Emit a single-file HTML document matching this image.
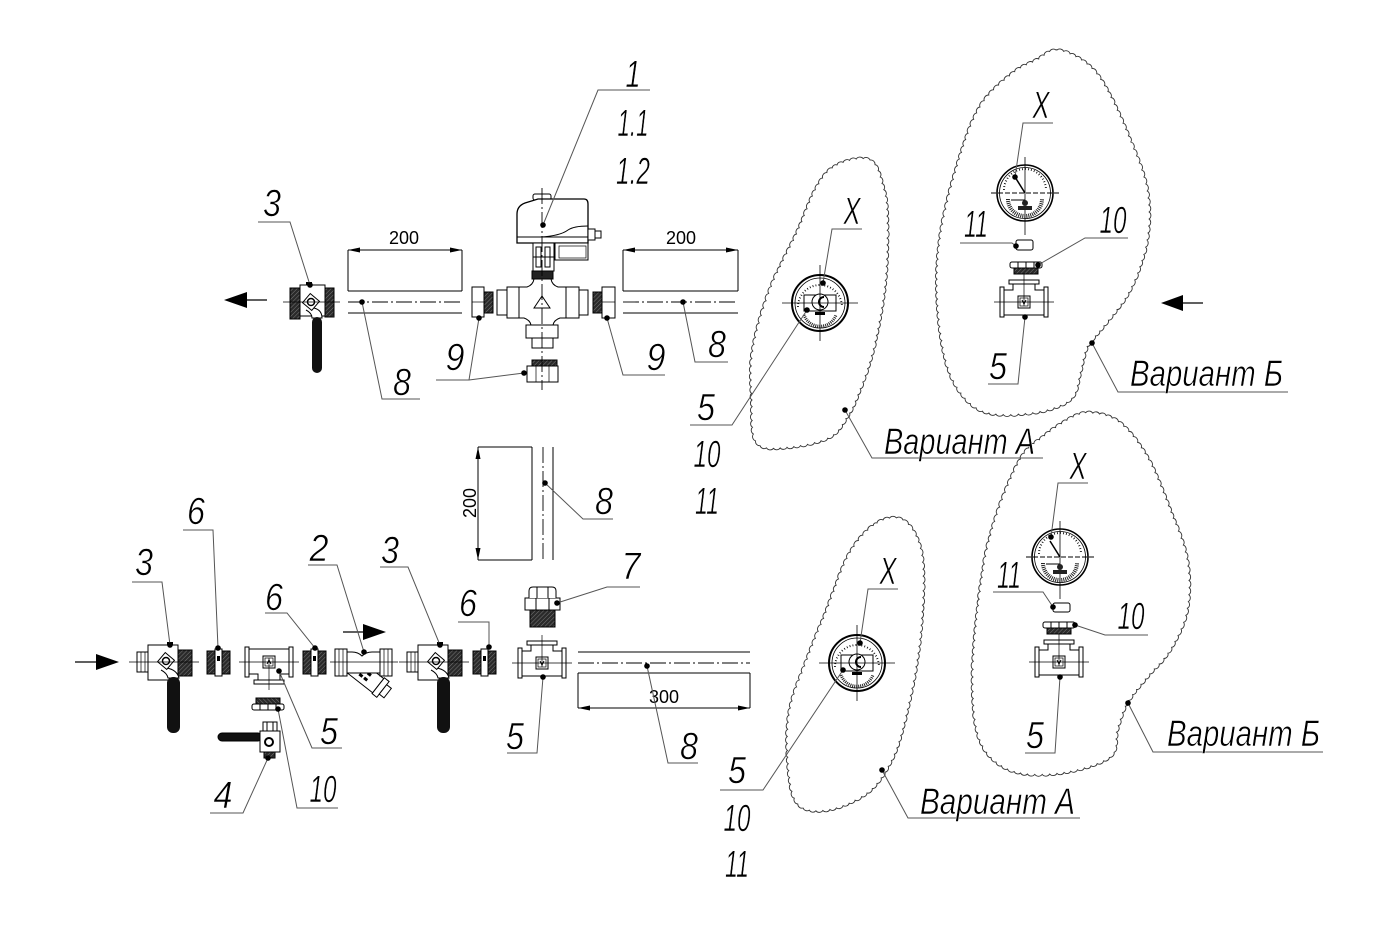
<!DOCTYPE html>
<html><head><meta charset="utf-8">
<style>
html,body{margin:0;padding:0;background:#fff;}
svg{display:block}
.t{font-family:"Liberation Sans",sans-serif;font-style:italic;font-size:38px;fill:#000;stroke:#fff;stroke-width:0.6}
.v{font-family:"Liberation Sans",sans-serif;font-style:italic;font-size:37px;fill:#000;stroke:#fff;stroke-width:0.6}
.d{font-family:"Liberation Sans",sans-serif;font-size:18px;fill:#000}
.ld{fill:none;stroke:#555;stroke-width:1}
.k{fill:none;stroke:#000;stroke-width:1}
.cl{fill:none;stroke:#000;stroke-width:0.9;stroke-dasharray:16 3 2 3}
.cloud{fill:none;stroke:#333;stroke-width:0.9}
</style></head><body>
<svg width="1400" height="940" viewBox="0 0 1400 940" xmlns="http://www.w3.org/2000/svg">
<defs>
<pattern id="h" width="3" height="3" patternUnits="userSpaceOnUse" patternTransform="rotate(45)">
<rect width="3" height="3" fill="#2a2a2a"/><line x1="0" y1="0" x2="0" y2="3" stroke="#999" stroke-width="0.7"/>
</pattern>
<g id="bv">
<rect x="0" y="-10" width="11" height="20" fill="#fff" stroke="#000"/>
<line x1="4" y1="-10" x2="4" y2="10" stroke="#000" stroke-width="0.7"/>
<line x1="8" y1="-10" x2="8" y2="10" stroke="#000" stroke-width="0.7"/>
<rect x="11" y="-17" width="30" height="35" fill="#fff" stroke="#000"/>
<rect x="41" y="-12" width="14" height="26" fill="url(#h)" stroke="#000"/>
<rect x="30" y="-20" width="6" height="3" fill="#000"/>
<path d="M30,6 Q40,8 42,16 L31,16 Q30,11 24,8" fill="#fff" stroke="#000"/>
<rect x="30" y="15" width="13" height="56" rx="6" fill="#111"/>
<rect x="23" y="-7" width="12" height="12" transform="rotate(40 29 -1)" fill="#fff" stroke="#000"/>
<circle cx="29" cy="-1" r="3.5" fill="#fff" stroke="#000" stroke-width="1.5"/>
<line x1="-8" y1="0" x2="62" y2="0" stroke="#000" stroke-width="0.8"/>
</g>
<g id="nip">
<rect x="0" y="-11" width="8" height="23" fill="url(#h)" stroke="#000"/>
<rect x="8" y="-13" width="7" height="27" fill="#fff" stroke="#000"/>
<rect x="10" y="-6" width="3" height="5" fill="#000"/>
<rect x="15" y="-11" width="8" height="23" fill="url(#h)" stroke="#000"/>
</g>
<g id="tee">
<rect x="-24" y="-15" width="4" height="30" fill="#fff" stroke="#000"/>
<rect x="20" y="-15" width="4" height="30" fill="#fff" stroke="#000"/>
<path d="M-20,-12 H-11 V-18 H11 V-12 H20 V13 H-20 Z" fill="#fff" stroke="#000"/>
<rect x="-15" y="-22" width="30" height="4" fill="#fff" stroke="#000"/>
<rect x="-6" y="-6" width="12" height="12" fill="#fff" stroke="#000"/>
<rect x="-4" y="-4" width="8" height="8" fill="#fff" stroke="#000" stroke-width="0.7"/>
<path d="M-2,-2 L0,2 L2,-2" stroke="#000" fill="none"/>
<line x1="-30" y1="0" x2="30" y2="0" stroke="#000" stroke-width="0.7"/>
<line x1="0" y1="-28" x2="0" y2="4" stroke="#000" stroke-width="0.7"/>
</g>
<g id="un">
<rect x="-16" y="-6" width="32" height="6" rx="2" fill="#fff" stroke="#000"/>
<line x1="-8" y1="-6" x2="-8" y2="0" stroke="#000"/>
<line x1="0" y1="-6" x2="0" y2="0" stroke="#000"/>
<line x1="8" y1="-6" x2="8" y2="0" stroke="#000"/>
<rect x="-12" y="0" width="24" height="6" fill="url(#h)" stroke="#000"/>
</g>
<g id="gB">
<circle r="28" fill="#fff" stroke="#000" stroke-width="1.6"/>
<circle r="25.5" fill="none" stroke="#000" stroke-width="0.8"/>
<path d="M-21,-3 A21,21 0 0 1 21,-3" fill="none" stroke="#000" stroke-width="2" stroke-dasharray="0.8 2.2"/>
<line x1="-34" y1="0" x2="34" y2="0" stroke="#000" stroke-dasharray="5 2"/>
<line x1="0" y1="-36" x2="0" y2="42" stroke="#000" stroke-width="0.8"/>
<path d="M-17,6 A17,17 0 0 0 17,6" fill="none" stroke="#222" stroke-width="4" stroke-dasharray="1 1"/>
<line x1="-10" y1="-16" x2="0" y2="0" stroke="#000" stroke-width="1.5"/>
<line x1="-14" y1="7" x2="0" y2="7" stroke="#000"/>
<circle cx="0" cy="10" r="3" fill="#222"/>
<rect x="-7" y="13" width="14" height="4" fill="#222"/>
</g>
<g id="gA">
<circle r="28" fill="#fff" stroke="#000" stroke-width="2"/>
<circle r="25" fill="none" stroke="#000" stroke-width="0.8"/>
<path d="M-22,4 A22,22 0 1 1 22,4" fill="none" stroke="#000" stroke-width="2" stroke-dasharray="0.8 2.2"/>
<rect x="-16" y="-8" width="32" height="16" fill="#fff" stroke="#000"/>
<circle cx="0" cy="-1" r="8" fill="#fff" stroke="#000"/>
<path d="M4,-6 A5,5 0 1 0 4,4" fill="none" stroke="#000" stroke-width="2"/>
<rect x="-5" y="9" width="10" height="3" fill="#000"/>
<path d="M-16,12 A17,17 0 0 0 16,12" fill="none" stroke="#222" stroke-width="3" stroke-dasharray="1 1"/>
<line x1="-38" y1="0" x2="38" y2="0" stroke="#000" stroke-width="0.8"/>
<line x1="0" y1="-38" x2="0" y2="38" stroke="#000" stroke-width="0.8"/>
</g>
</defs>

<!-- ================= TOP ROW ================= -->
<line x1="246" y1="300" x2="267" y2="300" stroke="#000" stroke-width="1.2"/>
<polygon points="224,300 247,292 247,308" fill="#000"/>

<g>
<rect x="290" y="288" width="10" height="31" fill="url(#h)" stroke="#000"/>
<rect x="300" y="285" width="25" height="31" fill="#fff" stroke="#000"/>
<rect x="325" y="288" width="9" height="29" fill="url(#h)" stroke="#000"/>
<rect x="306" y="282" width="6" height="3" fill="#000"/>
<path d="M314,308 Q322,310 322,318 L312,318 Q312,313 306,310" fill="#fff" stroke="#000"/>
<rect x="312" y="317" width="10" height="56" rx="5" fill="#111"/>
<rect x="305" y="296" width="12" height="12" transform="rotate(40 311 302)" fill="#fff" stroke="#000"/>
<circle cx="311" cy="302" r="3.5" fill="#fff" stroke="#000" stroke-width="1.5"/>
<line x1="283" y1="302" x2="340" y2="302" stroke="#000" stroke-width="0.8"/>
</g>

<g class="k">
<line x1="348" y1="250" x2="348" y2="291"/>
<line x1="462" y1="250" x2="462" y2="291"/>
<line x1="348" y1="250" x2="462" y2="250"/>
<line x1="348" y1="291" x2="462" y2="291"/>
<line x1="348" y1="313" x2="462" y2="313"/>
</g>
<line class="cl" x1="348" y1="302" x2="462" y2="302"/>
<polygon points="348,250 360,247.5 360,252.5" fill="#000"/>
<polygon points="462,250 450,247.5 450,252.5" fill="#000"/>
<text class="d" x="404" y="244" text-anchor="middle">200</text>

<g class="k">
<line x1="623" y1="250" x2="623" y2="291"/>
<line x1="738" y1="250" x2="738" y2="291"/>
<line x1="623" y1="250" x2="738" y2="250"/>
<line x1="623" y1="291" x2="738" y2="291"/>
<line x1="623" y1="313" x2="738" y2="313"/>
</g>
<line class="cl" x1="623" y1="302" x2="738" y2="302"/>
<polygon points="623,250 635,247.5 635,252.5" fill="#000"/>
<polygon points="738,250 726,247.5 726,252.5" fill="#000"/>
<text class="d" x="681" y="244" text-anchor="middle">200</text>

<rect x="472" y="287" width="12" height="30" fill="#fff" stroke="#000"/>
<line x1="472" y1="302" x2="484" y2="302" stroke="#000" stroke-width="0.7"/>
<rect x="484" y="292" width="9" height="21" fill="url(#h)" stroke="#000"/>
<rect x="602" y="287" width="13" height="31" fill="#fff" stroke="#000"/>
<line x1="602" y1="302" x2="615" y2="302" stroke="#000" stroke-width="0.7"/>
<rect x="593" y="292" width="9" height="21" fill="url(#h)" stroke="#000"/>
<rect x="532" y="360" width="25" height="6" fill="url(#h)" stroke="#000"/>
<rect x="527" y="366" width="31" height="16" fill="#fff" stroke="#000"/>
<line x1="536" y1="366" x2="536" y2="382" stroke="#000" stroke-width="0.7"/>
<line x1="549" y1="366" x2="549" y2="382" stroke="#000" stroke-width="0.7"/>

<g stroke="#000" stroke-width="1">
<rect x="533" y="194" width="18" height="6" rx="2" fill="#fff"/>
<path d="M517,243 V214 Q517,206 525,203 L538,199 H584 Q588,199 588,204 V243 Z" fill="#fff" stroke-width="1.3"/>
<line x1="517" y1="237" x2="588" y2="237"/>
<path d="M540,237 Q560,236 568,230 Q574,226 588,226" fill="none"/>
<rect x="555" y="243" width="33" height="17" fill="#fff"/>
<rect x="559" y="246" width="27" height="12" fill="none" stroke-width="0.7"/>
<rect x="588" y="229" width="7" height="11" fill="#fff"/>
<rect x="595" y="231" width="6" height="7" fill="#fff"/>
<rect x="533" y="243" width="21" height="28" fill="#fff"/>
<rect x="536" y="247" width="5" height="20" fill="none"/>
<rect x="545" y="247" width="5" height="20" fill="none"/>
<line x1="533" y1="257" x2="554" y2="257"/>
<rect x="532" y="271" width="21" height="8" fill="#222"/>
<path d="M519,287 H527 Q533,285 534,279 H551 Q552,285 558,287 H566 V318 H560 Q554,320 553,325 H531 Q530,320 524,318 H519 Z" fill="#fff"/>
<rect x="507" y="287" width="12" height="31" fill="#fff"/>
<rect x="497" y="290" width="10" height="25" fill="#fff"/>
<rect x="566" y="287" width="13" height="31" fill="#fff"/>
<rect x="579" y="290" width="9" height="25" fill="#fff"/>
<rect x="526" y="325" width="32" height="13" fill="#fff"/>
<rect x="532" y="338" width="21" height="10" fill="#fff"/>
<polygon points="542,296 534,308 550,308" fill="none"/>
</g>
<line class="cl" x1="542" y1="188" x2="542" y2="390"/>

<g class="ld">
<polyline points="310,285 290,222 258,222"/>
<polyline points="362,302 382,399 420,399"/>
<polyline points="479,318 469,380 436,380"/>
<line x1="469" y1="380" x2="524" y2="373"/>
<polyline points="607,318 623,375 665,375"/>
<polyline points="683,302 695,362 728,362"/>
<polyline points="543,225 598,90 650,90"/>
</g>
<g fill="#000">
<circle cx="310" cy="285" r="2.8"/><circle cx="362" cy="302" r="2.8"/>
<circle cx="479" cy="318" r="2.8"/><circle cx="524" cy="373" r="2.8"/>
<circle cx="607" cy="318" r="2.8"/><circle cx="683" cy="302" r="2.8"/>
<circle cx="543" cy="225" r="2.8"/>
</g>
<text class="t" x="633" y="87" text-anchor="middle" textLength="15" lengthAdjust="spacingAndGlyphs">1</text>
<text class="t" x="633" y="136" text-anchor="middle" textLength="31" lengthAdjust="spacingAndGlyphs">1.1</text>
<text class="t" x="633" y="184" text-anchor="middle" textLength="34" lengthAdjust="spacingAndGlyphs">1.2</text>
<text class="t" x="272" y="216" text-anchor="middle" textLength="18" lengthAdjust="spacingAndGlyphs">3</text>
<text class="t" x="402" y="395" text-anchor="middle" textLength="18" lengthAdjust="spacingAndGlyphs">8</text>
<text class="t" x="455" y="370" text-anchor="middle" textLength="19" lengthAdjust="spacingAndGlyphs">9</text>
<text class="t" x="656" y="370" text-anchor="middle" textLength="19" lengthAdjust="spacingAndGlyphs">9</text>
<text class="t" x="717" y="357" text-anchor="middle" textLength="18" lengthAdjust="spacingAndGlyphs">8</text>

<!-- ================= CLOUDS ================= -->
<path id="c1" class="cloud" d="M837,165 L870,160 883,187 887,217 885,283 873,350 857,397 847,417 830,437 790,447 757,443 752,400 753,350 770,290 797,233 817,187 Z"/>
<path id="c2" class="cloud" d="M1057,50 L1087,64 1107,90 1130,140 1147,190 1147,240 1130,290 1103,327 1087,347 1080,373 1070,400 1030,413 980,410 950,373 938,307 940,240 957,167 980,107 1013,73 1037,60 Z"/>
<path id="c3" class="cloud" d="M877,523 L903,520 920,547 923,593 917,660 903,727 890,763 867,793 827,810 797,803 788,760 790,710 807,660 827,610 850,553 Z"/>
<path id="c4" class="cloud" d="M1093,413 L1120,423 1147,457 1170,510 1187,560 1187,610 1170,650 1147,677 1127,703 1117,730 1110,757 1060,773 1010,770 980,740 973,677 980,593 993,527 1020,460 1043,437 1073,417 Z"/>

<use href="#gA" transform="translate(820,303)"/>
<g class="ld">
<polyline points="823,283 832,229 862,229"/>
<polyline points="807,310 732,425 690,425"/>
<polyline points="845,410 872,458 1043,458"/>
</g>
<g fill="#000"><circle cx="823" cy="283" r="2.8"/><circle cx="807" cy="310" r="2.8"/><circle cx="845" cy="410" r="2.8"/></g>
<text class="t" x="852" y="224" text-anchor="middle" textLength="17" lengthAdjust="spacingAndGlyphs">X</text>
<text class="t" x="706" y="420" text-anchor="middle" textLength="18" lengthAdjust="spacingAndGlyphs">5</text>
<text class="t" x="707" y="467" text-anchor="middle" textLength="27" lengthAdjust="spacingAndGlyphs">10</text>
<text class="t" x="707" y="514" text-anchor="middle" textLength="24" lengthAdjust="spacingAndGlyphs">11</text>
<text class="v" x="884" y="454" textLength="151" lengthAdjust="spacingAndGlyphs">Вариант А</text>

<use href="#gB" transform="translate(1025,193)"/>
<rect x="1016" y="240" width="17" height="10" rx="2" fill="#fff" stroke="#000"/>
<use href="#un" transform="translate(1026,268)"/>
<use href="#tee" transform="translate(1024,302)"/>
<g class="ld">
<polyline points="1015,177 1023,123 1053,123"/>
<polyline points="1016,246 1012,243 960,243"/>
<polyline points="1038,265 1085,238 1128,238"/>
<polyline points="1025,317 1018,384 988,384"/>
<polyline points="1092,343 1118,392 1288,392"/>
</g>
<g fill="#000"><circle cx="1015" cy="177" r="2.8"/><circle cx="1016" cy="246" r="2.8"/><circle cx="1038" cy="265" r="2.8"/><circle cx="1025" cy="317" r="2.8"/><circle cx="1092" cy="343" r="2.8"/></g>
<text class="t" x="1041" y="118" text-anchor="middle" textLength="17" lengthAdjust="spacingAndGlyphs">X</text>
<text class="t" x="976" y="237" text-anchor="middle" textLength="24" lengthAdjust="spacingAndGlyphs">11</text>
<text class="t" x="1113" y="233" text-anchor="middle" textLength="27" lengthAdjust="spacingAndGlyphs">10</text>
<text class="t" x="998" y="379" text-anchor="middle" textLength="18" lengthAdjust="spacingAndGlyphs">5</text>
<text class="v" x="1130" y="386" textLength="153" lengthAdjust="spacingAndGlyphs">Вариант Б</text>
<line x1="1182" y1="303" x2="1203" y2="303" stroke="#000" stroke-width="1.2"/>
<polygon points="1161,303 1183,295 1183,311" fill="#000"/>

<!-- ================= BOTTOM ROW ================= -->
<line x1="75" y1="662" x2="97" y2="662" stroke="#000" stroke-width="1.2"/>
<polygon points="119,662 96,654 96,670" fill="#000"/>
<line x1="343" y1="632" x2="365" y2="632" stroke="#000" stroke-width="1.2"/>
<polygon points="386,632 363,624 363,640" fill="#000"/>

<use href="#bv" transform="translate(137,662)"/>
<use href="#nip" transform="translate(207,662)"/>
<use href="#tee" transform="translate(269,662) scale(1,-1)"/>
<use href="#nip" transform="translate(303,662)"/>
<use href="#un" transform="translate(268,704) scale(1,-1)"/>

<g stroke="#000">
<rect x="218" y="733" width="44" height="8" rx="4" fill="#111"/>
<rect x="263" y="722" width="14" height="9" fill="#fff"/>
<line x1="267" y1="722" x2="267" y2="731"/><line x1="273" y1="722" x2="273" y2="731"/>
<rect x="260" y="731" width="20" height="21" fill="#fff"/>
<circle cx="269" cy="742" r="4" fill="#fff" stroke-width="2"/>
<rect x="264" y="752" width="11" height="6" fill="url(#h)"/>
</g>

<g stroke="#000">
<g transform="translate(353,666) rotate(38)">
<rect x="0" y="-9" width="32" height="18" fill="#fff"/>
<rect x="32" y="-10" width="6" height="20" fill="#fff"/>
<rect x="38" y="-6" width="6" height="12" fill="#fff"/>
<rect x="10" y="-5" width="4" height="3" fill="#000" stroke="none"/>
<rect x="16" y="-5" width="4" height="3" fill="#000" stroke="none"/>
<rect x="10" y="1" width="4" height="3" fill="#000" stroke="none"/>
<rect x="16" y="1" width="4" height="3" fill="#000" stroke="none"/>
</g>
<rect x="335" y="649" width="12" height="27" fill="#fff"/>
<line x1="339" y1="649" x2="339" y2="676" stroke-width="0.7"/><line x1="343" y1="649" x2="343" y2="676" stroke-width="0.7"/>
<path d="M347,652 H352 Q358,652 362,656 Q366,652 372,652 H380 V673 H347 Z" fill="#fff"/>
<rect x="380" y="649" width="12" height="27" fill="#fff"/>
<line x1="384" y1="649" x2="384" y2="676" stroke-width="0.7"/><line x1="388" y1="649" x2="388" y2="676" stroke-width="0.7"/>
<line x1="330" y1="662" x2="398" y2="662" stroke-width="0.7"/>
</g>

<use href="#bv" transform="translate(407,662)"/>
<use href="#nip" transform="translate(473,662)"/>
<use href="#tee" transform="translate(542,663)"/>

<g stroke="#000">
<rect x="530" y="610" width="25" height="17" fill="url(#h)"/>
<rect x="525" y="598" width="35" height="12" fill="#fff"/>
<line x1="536" y1="598" x2="536" y2="610"/><line x1="549" y1="598" x2="549" y2="610"/>
<path d="M529,598 V591 Q529,587 533,587 H552 Q556,587 556,591 V598" fill="#fff"/>
<line x1="537" y1="587" x2="537" y2="598"/><line x1="548" y1="587" x2="548" y2="598"/>
</g>

<g class="k">
<line x1="532" y1="447" x2="532" y2="560"/>
<line x1="553" y1="447" x2="553" y2="560"/>
<line x1="478" y1="447" x2="532" y2="447"/>
<line x1="478" y1="560" x2="532" y2="560"/>
<line x1="478" y1="447" x2="478" y2="560"/>
</g>
<line class="cl" x1="543" y1="447" x2="543" y2="560"/>
<polygon points="478,447 475.5,459 480.5,459" fill="#000"/>
<polygon points="478,560 475.5,548 480.5,548" fill="#000"/>
<text class="d" transform="translate(476,503) rotate(-90)" text-anchor="middle">200</text>

<g class="k">
<line x1="578" y1="652" x2="750" y2="652"/>
<line x1="578" y1="673" x2="750" y2="673"/>
<line x1="578" y1="673" x2="578" y2="708"/>
<line x1="750" y1="673" x2="750" y2="708"/>
<line x1="578" y1="708" x2="750" y2="708"/>
</g>
<line class="cl" x1="578" y1="663" x2="750" y2="663"/>
<polygon points="578,708 590,705.5 590,710.5" fill="#000"/>
<polygon points="750,708 738,705.5 738,710.5" fill="#000"/>
<text class="d" x="664" y="703" text-anchor="middle">300</text>

<g class="ld">
<polyline points="170,645 162,582 132,582"/>
<polyline points="218,648 213,530 183,530"/>
<polyline points="315,648 287,613 265,613"/>
<polyline points="364,652 337,565 308,565"/>
<polyline points="440,645 408,567 380,567"/>
<polyline points="489,647 489,622 458,622"/>
<polyline points="279,671 312,748 342,748"/>
<polyline points="278,709 297,808 338,808"/>
<polyline points="268,758 243,813 210,813"/>
<polyline points="557,603 607,587 640,587"/>
<polyline points="545,483 583,519 613,519"/>
<polyline points="543,677 537,753 507,753"/>
<polyline points="647,666 668,763 698,763"/>
</g>
<g fill="#000">
<circle cx="170" cy="645" r="2.8"/><circle cx="218" cy="648" r="2.8"/><circle cx="315" cy="648" r="2.8"/>
<circle cx="364" cy="652" r="2.8"/><circle cx="440" cy="645" r="2.8"/><circle cx="489" cy="647" r="2.8"/>
<circle cx="279" cy="671" r="2.8"/><circle cx="278" cy="709" r="2.8"/><circle cx="268" cy="758" r="2.8"/>
<circle cx="557" cy="603" r="2.8"/><circle cx="545" cy="483" r="2.8"/><circle cx="543" cy="677" r="2.8"/>
<circle cx="647" cy="666" r="2.8"/>
</g>
<text class="t" x="144" y="575" text-anchor="middle" textLength="18" lengthAdjust="spacingAndGlyphs">3</text>
<text class="t" x="196" y="524" text-anchor="middle" textLength="18" lengthAdjust="spacingAndGlyphs">6</text>
<text class="t" x="274" y="610" text-anchor="middle" textLength="18" lengthAdjust="spacingAndGlyphs">6</text>
<text class="t" x="319" y="561" text-anchor="middle" textLength="19" lengthAdjust="spacingAndGlyphs">2</text>
<text class="t" x="390" y="563" text-anchor="middle" textLength="18" lengthAdjust="spacingAndGlyphs">3</text>
<text class="t" x="468" y="616" text-anchor="middle" textLength="18" lengthAdjust="spacingAndGlyphs">6</text>
<text class="t" x="329" y="744" text-anchor="middle" textLength="18" lengthAdjust="spacingAndGlyphs">5</text>
<text class="t" x="323" y="802" text-anchor="middle" textLength="27" lengthAdjust="spacingAndGlyphs">10</text>
<text class="t" x="223" y="808" text-anchor="middle" textLength="19" lengthAdjust="spacingAndGlyphs">4</text>
<text class="t" x="631" y="579" text-anchor="middle" textLength="19" lengthAdjust="spacingAndGlyphs">7</text>
<text class="t" x="604" y="514" text-anchor="middle" textLength="18" lengthAdjust="spacingAndGlyphs">8</text>
<text class="t" x="515" y="749" text-anchor="middle" textLength="18" lengthAdjust="spacingAndGlyphs">5</text>
<text class="t" x="689" y="759" text-anchor="middle" textLength="18" lengthAdjust="spacingAndGlyphs">8</text>

<use href="#gA" transform="translate(857,663)"/>
<g class="ld">
<polyline points="860,643 868,589 898,589"/>
<polyline points="843,670 763,790 720,790"/>
<polyline points="882,770 908,818 1080,818"/>
</g>
<g fill="#000"><circle cx="860" cy="643" r="2.8"/><circle cx="843" cy="670" r="2.8"/><circle cx="882" cy="770" r="2.8"/></g>
<text class="t" x="888" y="584" text-anchor="middle" textLength="17" lengthAdjust="spacingAndGlyphs">X</text>
<text class="t" x="737" y="783" text-anchor="middle" textLength="18" lengthAdjust="spacingAndGlyphs">5</text>
<text class="t" x="737" y="831" text-anchor="middle" textLength="27" lengthAdjust="spacingAndGlyphs">10</text>
<text class="t" x="737" y="877" text-anchor="middle" textLength="24" lengthAdjust="spacingAndGlyphs">11</text>
<text class="v" x="920" y="814" textLength="155" lengthAdjust="spacingAndGlyphs">Вариант А</text>

<use href="#gB" transform="translate(1060,557)"/>
<rect x="1053" y="603" width="17" height="9" rx="2" fill="#fff" stroke="#000"/>
<use href="#un" transform="translate(1059,628)"/>
<use href="#tee" transform="translate(1059,662)"/>
<g class="ld">
<polyline points="1051,537 1058,483 1088,483"/>
<polyline points="1053,607 1043,592 993,592"/>
<polyline points="1075,625 1105,635 1148,635"/>
<polyline points="1060,677 1055,753 1025,753"/>
<polyline points="1128,703 1153,752 1323,752"/>
</g>
<g fill="#000"><circle cx="1051" cy="537" r="2.8"/><circle cx="1053" cy="607" r="2.8"/><circle cx="1075" cy="625" r="2.8"/><circle cx="1060" cy="677" r="2.8"/><circle cx="1128" cy="703" r="2.8"/></g>
<text class="t" x="1078" y="479" text-anchor="middle" textLength="17" lengthAdjust="spacingAndGlyphs">X</text>
<text class="t" x="1009" y="588" text-anchor="middle" textLength="24" lengthAdjust="spacingAndGlyphs">11</text>
<text class="t" x="1131" y="629" text-anchor="middle" textLength="27" lengthAdjust="spacingAndGlyphs">10</text>
<text class="t" x="1035" y="748" text-anchor="middle" textLength="18" lengthAdjust="spacingAndGlyphs">5</text>
<text class="v" x="1167" y="746" textLength="153" lengthAdjust="spacingAndGlyphs">Вариант Б</text>
</svg>
<script>
(function(){
  var ids=["c1","c2","c3","c4"];
  ids.forEach(function(id){
    var el=document.getElementById(id);
    var d=el.getAttribute("d").replace(/[MLZ]/g," ").trim().split(/[\s,]+/).map(Number);
    var pts=[];for(var i=0;i<d.length;i+=2)pts.push([d[i],d[i+1]]);
    var n=pts.length,dense=[];
    for(var i=0;i<n;i++){
      var p0=pts[(i-1+n)%n],p1=pts[i],p2=pts[(i+1)%n],p3=pts[(i+2)%n];
      for(var t=0;t<1;t+=0.02){
        var t2=t*t,t3=t2*t,q=[0,0];
        for(var k=0;k<2;k++){
          q[k]=0.5*((2*p1[k])+(-p0[k]+p2[k])*t+(2*p0[k]-5*p1[k]+4*p2[k]-p3[k])*t2+(-p0[k]+3*p1[k]-3*p2[k]+p3[k])*t3);
        }
        dense.push(q);
      }
    }
    var step=6.5,out=[dense[0]],last=dense[0];
    for(var i=1;i<dense.length;i++){
      var p=dense[i];
      if(Math.hypot(p[0]-last[0],p[1]-last[1])>=step){out.push(p);last=p;}
    }
    var s="M"+out[0][0].toFixed(1)+","+out[0][1].toFixed(1);
    for(var i=1;i<=out.length;i++){
      var a=out[i-1],b=out[i%out.length];
      var c=Math.hypot(b[0]-a[0],b[1]-a[1]);
      var r=(c*0.62).toFixed(1);
      s+=" A"+r+","+r+" 0 0 1 "+b[0].toFixed(1)+","+b[1].toFixed(1);
    }
    el.setAttribute("d",s+" Z");
  });
})();
</script>
</body></html>
